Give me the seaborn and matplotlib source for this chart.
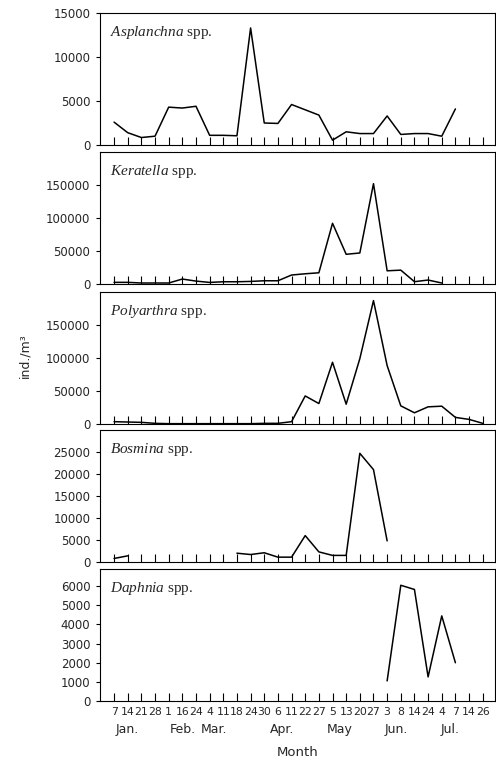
import numpy as np
import pandas as pd
import matplotlib
matplotlib.use("Agg")
import matplotlib.pyplot as plt
import seaborn as sns

sns.set_theme(style="ticks")
plt.rcParams['font.family'] = ['DejaVu Sans']
plt.rcParams['mathtext.fontset'] = 'custom'
plt.rcParams['mathtext.it'] = 'Liberation Serif:italic'
plt.rcParams['mathtext.rm'] = 'Liberation Serif'

nan = np.nan
# sampling days (tick labels) and months
days = ["7", "14", "21", "28", "1", "16", "24", "4", "11", "18", "24", "30", "6", "11",
        "22", "27", "5", "13", "20", "27", "3", "8", "14", "24", "4", "7", "14", "26"]
months = ["Jan.", "Feb.", "Mar.", "Apr.", "May", "Jun.", "Jul."]
month_pos = [1.0, 5.0, 7.3, 12.3, 16.5, 20.7, 24.6]

asplanchna = [2600, 1400, 850, 1000, 4300, 4200, 4400, 1100, 1100, 1050, 13300, 2500, 2450, 4600,
              4000, 3400, 550, 1500, 1300, 1300, 3300, 1200, 1300, 1300, 1000, 4100, nan, nan]
keratella = [2500, 2500, 1500, 1500, 1500, 7500, 4400, 2400, 3400, 3400, 3900, 4900, 4900, 13600,
             15500, 17000, 92000, 45000, 47000, 152000, 20000, 21000, 3500, 6000, 1500, nan, nan, nan]
polyarthra = [3500, 3000, 2500, 1000, 500, 500, 500, 500, 500, 500, 500, 1000, 1000, 3500,
              42500, 31000, 93500, 30000, 99000, 187000, 88500, 27500, 17000, 26000, 27000, 10000, 7000, 1000]
bosmina = [800, 1400, nan, nan, nan, nan, nan, nan, nan, 2000, 1700, 2100, 1100, 1100,
           6000, 2300, 1500, 1500, 24700, 21000, 4800, nan, nan, nan, nan, nan, nan, nan]
daphnia = [nan] * 20 + [1050, 6050, 5830, 1260, 4450, 2000, nan, nan]

species = ["Asplanchna", "Keratella", "Polyarthra", "Bosmina", "Daphnia"]
series = [asplanchna, keratella, polyarthra, bosmina, daphnia]
ylims = [15000, 200000, 200000, 30000, 6900]
yticks = [np.arange(0, 15001, 5000), np.arange(0, 150001, 50000), np.arange(0, 150001, 50000),
          np.arange(0, 25001, 5000), np.arange(0, 6001, 1000)]

fig = plt.figure(figsize=(4.96, 7.62), dpi=100)
W, H = 496, 762
tops = [13, 152, 292, 430, 569]
ph = 132
left, right = 100, 495

axes = []
for i, (name, vals) in enumerate(zip(species, series)):
    ax = fig.add_axes([left / W, 1 - (tops[i] + ph) / H, (right - left) / W, ph / H])
    axes.append(ax)
    v = np.array(vals, dtype=float)
    idx = np.arange(len(v))
    seg = np.cumsum(np.isnan(v))
    df = pd.DataFrame({"x": idx, "y": v, "seg": seg}).dropna()
    sns.lineplot(data=df, x="x", y="y", units="seg", estimator=None, color="black",
                 linewidth=1.1, ax=ax, legend=False)
    ax.set_xlim(-1.03, 27.9)
    ax.set_ylim(0, ylims[i])
    ax.set_yticks(yticks[i])
    ax.set_yticklabels([str(t) for t in yticks[i]], fontsize=8.5)
    ax.set_xticks(idx)
    ax.tick_params(axis='x', direction='in', length=6, width=0.8, color='black', pad=4)
    ax.tick_params(axis='y', direction='out', length=3, width=0.8, color='black', pad=4)
    if i < 4:
        ax.set_xticklabels([])
    else:
        ax.set_xticklabels(days, fontsize=7.8)
    ax.set_xlabel("")
    ax.set_ylabel("")
    for s in ax.spines.values():
        s.set_color("black")
        s.set_linewidth(0.8)
    ax.text(0.025, 0.855, r"$\mathit{" + name + r"}$ spp.", transform=ax.transAxes,
            fontsize=11, family="Liberation Serif", va="center", ha="left")

bax = axes[-1]
for m, p in zip(months, month_pos):
    bax.text(p, -0.215, m, transform=bax.get_xaxis_transform(), ha="center", va="center",
             fontsize=9)
fig.text((left + right) / 2 / W, 1 - 752 / H, "Month", ha="center", va="center", fontsize=9.5)
fig.text(25 / W, 1 - 356 / H, "ind./m³", rotation=90, ha="center", va="center", fontsize=9)

fig.savefig("out.png", dpi=100)
